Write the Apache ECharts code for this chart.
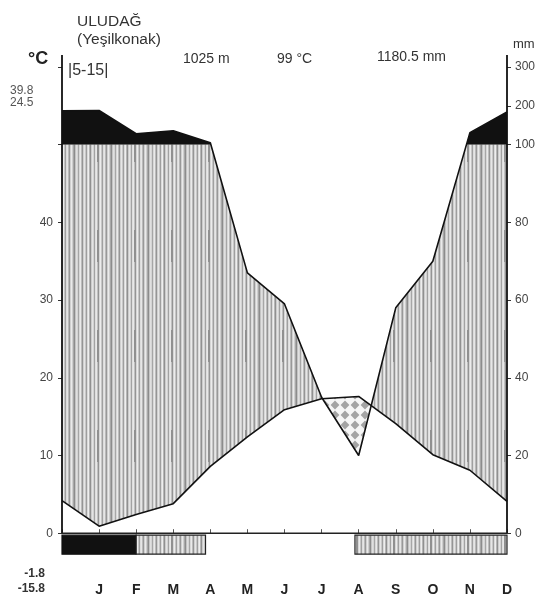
<!DOCTYPE html>
<html><head><meta charset="utf-8">
<script src="https://cdn.jsdelivr.net/npm/echarts@6/dist/echarts.min.js"></script>
<style>html,body{margin:0;padding:0;background:#fff}#c{width:543px;height:597px}</style>
</head><body><div id="c"></div>
<script>
// ---- data ----
const months = ['J','F','M','A','M','J','J','A','S','O','N','D'];
const xPositions = [0,1,2,3,4,5,6,7,8,9,10,11,12];
const temperature = [4.2, 0.9, 2.4, 3.8, 8.6, 12.4, 15.9, 17.3, 17.6, 14.1, 10.1, 8.1, 4.1];
const precipitation = [187, 188, 128, 136, 105, 67, 59, 35, 20, 58, 70, 131, 184];
const tempTickLabels = [0, 10, 20, 30, 40];
const tempTicks = [0, 10, 20, 30, 40, 50, 60];
const precipTickLabels = [0, 20, 40, 60, 80, 100, 200, 300];
const frostSureRanges = [[0, 2]];
const frostPossibleRanges = [[2, 3.87], [7.9, 12]];
const frostBand = [-0.25, -2.7];

// ---- scale helpers ----
function mmToAxis(p){ return p <= 100 ? p / 2 : 50 + (p - 100) / 20; }
function axisToMm(v){ return v <= 50 ? v * 2 : 100 + (v - 50) * 20; }
const precipAxis = precipitation.map(mmToAxis);

function refine(xs, arrs, ia, ib){
  const X = [], out = arrs.map(() => []);
  for (let i = 0; i < xs.length; i++){
    X.push(xs[i]); arrs.forEach((a, k) => out[k].push(a[i]));
    if (i < xs.length - 1){
      const d0 = arrs[ia][i] - arrs[ib][i], d1 = arrs[ia][i+1] - arrs[ib][i+1];
      if ((d0 > 0 && d1 < 0) || (d0 < 0 && d1 > 0)){
        const t = d0 / (d0 - d1);
        X.push(xs[i] + t * (xs[i+1] - xs[i]));
        arrs.forEach((a, k) => out[k].push(a[i] + t * (a[i+1] - a[i])));
      }
    }
  }
  return {X, out};
}
function regions(X, U, L){
  const polys = []; let run = null;
  for (let i = 0; i < X.length - 1; i++){
    const inside = (U[i] + U[i+1]) / 2 - (L[i] + L[i+1]) / 2 > 1e-9;
    if (inside){ if (!run) run = [i, i+1]; else run[1] = i+1; }
    else if (run){ polys.push(run); run = null; }
  }
  if (run) polys.push(run);
  return polys.map(([s, e]) => {
    const pts = [];
    for (let i = s; i <= e; i++) pts.push([X[i], U[i]]);
    for (let i = e; i >= s; i--) pts.push([X[i], L[i]]);
    return pts;
  });
}

// ---- patterns ----
function hatchPattern(){
  const w = 37, h = 100;
  const c = document.createElement('canvas'); c.width = w; c.height = h;
  const g = c.getContext('2d');
  const cols = ['#8c8c8c','#c4c4c4','#e0e0e0','#d4d4d4','#a6a6a6','#d8d8d8','#eaeaea','#bcbcbc',
                '#959595','#d0d0d0','#e6e6e6','#c8c8c8','#9e9e9e','#dadada','#eeeeee','#b6b6b6',
                '#909090','#cccccc','#e4e4e4','#d2d2d2','#a2a2a2','#dedede','#e8e8e8','#c0c0c0',
                '#949494','#d6d6d6','#ececec','#c6c6c6','#a0a0a0','#dcdcdc','#e6e6e6','#bababa',
                '#989898','#d0d0d0','#eaeaea','#cecece','#a8a8a8'];
  cols.forEach((col, i) => { g.fillStyle = col; g.fillRect(i, 0, 1, h); });
  g.fillStyle = '#909090'; g.fillRect(23, 30, 2, 32);
  return c;
}
function aridPattern(){
  const c = document.createElement('canvas'); c.width = 10; c.height = 10;
  const g = c.getContext('2d');
  g.fillStyle = '#f6f6f6'; g.fillRect(0, 0, 10, 10);
  g.fillStyle = '#a4a4a4';
  g.beginPath(); g.moveTo(5, 0.6); g.lineTo(9.4, 5); g.lineTo(5, 9.4); g.lineTo(0.6, 5); g.closePath(); g.fill();
  return c;
}
const hatch = {image: hatchPattern(), repeat: 'repeat'};
const arid = {image: aridPattern(), repeat: 'repeat'};

// ---- fill polygons (data space) ----
const fifty = xPositions.map(() => 50);
const r1 = refine(xPositions, [temperature, precipAxis, fifty], 1, 2);
const blackPolys = regions(r1.X, r1.out[1], r1.out[2]);
const pCap = r1.out[1].map(v => Math.min(v, 50));
const r2 = refine(r1.X, [r1.out[0], pCap], 1, 0);
const humidPolys = regions(r2.X, r2.out[1], r2.out[0]);
const aridPolys = regions(r2.X, r2.out[0], r2.out[1]);

function polyEl(pts, api, fill, stroke){
  return {type: 'polygon', shape: {points: pts.map(p => api.coord(p))},
          style: {fill: fill, stroke: stroke || null, lineWidth: stroke ? 1.2 : 0}};
}

const chart = echarts.init(document.getElementById('c'), null, {renderer: 'canvas'});
const T = (x, y, text, font, color, align) => ({type: 'text', x: x, y: y,
  style: {text: text, font: font, fill: color || '#333', textAlign: align || 'left', textVerticalAlign: 'middle'}});

chart.setOption({
  animation: false,
  backgroundColor: '#fff',
  grid: {left: 62, right: 36, top: 55, bottom: 20},
  xAxis: {
    type: 'value', min: 0, max: 12, interval: 1,
    axisLine: {show: true, lineStyle: {color: '#555', width: 1.2}},
    axisTick: {show: true, inside: true, length: 4, lineStyle: {color: '#555'}},
    axisLabel: {show: true, margin: 8, color: '#222', fontFamily: 'Liberation Sans, Arial', fontWeight: 'bold', fontSize: 14,
      formatter: v => (v >= 1 && v <= 12) ? months[v - 1] : ''},
    splitLine: {show: false}
  },
  yAxis: [
    {type: 'value', min: -5.38, max: 61.54, position: 'left',
      axisLine: {show: false},
      axisTick: {show: true, length: 4, customValues: tempTicks, lineStyle: {color: '#333'}},
      axisLabel: {show: true, customValues: tempTickLabels, margin: 9, color: '#444', fontSize: 12, fontFamily: 'Liberation Sans, Arial'},
      splitLine: {show: false}},
    {type: 'value', min: -5.38, max: 61.54, position: 'right',
      axisLine: {show: false},
      axisTick: {show: true, length: 4, customValues: precipTickLabels.map(mmToAxis), lineStyle: {color: '#333'}},
      axisLabel: {show: true, customValues: precipTickLabels.map(mmToAxis), margin: 8, color: '#444', fontSize: 12,
        fontFamily: 'Liberation Sans, Arial', formatter: v => String(Math.round(axisToMm(v)))},
      splitLine: {show: false}}
  ],
  series: [
    {type: 'custom', z: 1, silent: true, data: [[0]],
      renderItem: (params, api) => {
        const children = [];
        blackPolys.forEach(p => children.push(polyEl(p, api, '#111')));
        humidPolys.forEach(p => children.push(polyEl(p, api, hatch)));
        aridPolys.forEach(p => children.push(polyEl(p, api, arid)));
        frostSureRanges.forEach(([a, b]) => children.push(polyEl([[a, frostBand[0]], [b, frostBand[0]], [b, frostBand[1]], [a, frostBand[1]]], api, '#111', '#111')));
        frostPossibleRanges.forEach(([a, b]) => children.push(polyEl([[a, frostBand[0]], [b, frostBand[0]], [b, frostBand[1]], [a, frostBand[1]]], api, hatch, '#222')));
        return {type: 'group', children: children};
      }},
    {type: 'line', name: 'temperature', z: 5, data: xPositions.map((x, i) => [x, temperature[i]]),
      showSymbol: false, symbol: 'none', lineStyle: {color: '#111', width: 1.6}},
    {type: 'line', name: 'precipitation', z: 5, data: xPositions.map((x, i) => [x, precipAxis[i]]),
      showSymbol: false, symbol: 'none', lineStyle: {color: '#111', width: 1.6}},
    {type: 'line', z: 6, data: [[0, 0], [0, 61.54]], symbol: 'none', lineStyle: {color: '#111', width: 1.8}},
    {type: 'line', z: 6, data: [[12, 0], [12, 61.54]], symbol: 'none', lineStyle: {color: '#111', width: 1.8}},
    {type: 'line', z: 6, data: [[0, 0], [12, 0]], symbol: 'none', lineStyle: {color: '#222', width: 1.6}}
  ],
  graphic: [
    T(77, 22, 'ULUDAĞ', '15.5px "Liberation Sans", Arial', '#333'),
    T(77, 40, '(Yeşilkonak)', '15.5px "Liberation Sans", Arial', '#333'),
    T(28, 59, '°C', 'bold 18px "Liberation Sans", Arial', '#222'),
    T(68, 71, '|5-15|', '16px "Liberation Sans", Arial', '#333'),
    T(183, 59, '1025 m', '14px "Liberation Sans", Arial', '#333'),
    T(277, 59, '99 °C', '14px "Liberation Sans", Arial', '#333'),
    T(377, 57, '1180.5 mm', '14px "Liberation Sans", Arial', '#333'),
    T(513, 44, 'mm', '13px "Liberation Sans", Arial', '#333'),
    T(10, 91, '39.8', '12px "Liberation Sans", Arial', '#555'),
    T(10, 103, '24.5', '12px "Liberation Sans", Arial', '#555'),
    T(45, 574, '-1.8', 'bold 12px "Liberation Sans", Arial', '#333', 'right'),
    T(45, 589, '-15.8', 'bold 12px "Liberation Sans", Arial', '#333', 'right')
  ]
});
</script></body></html>
